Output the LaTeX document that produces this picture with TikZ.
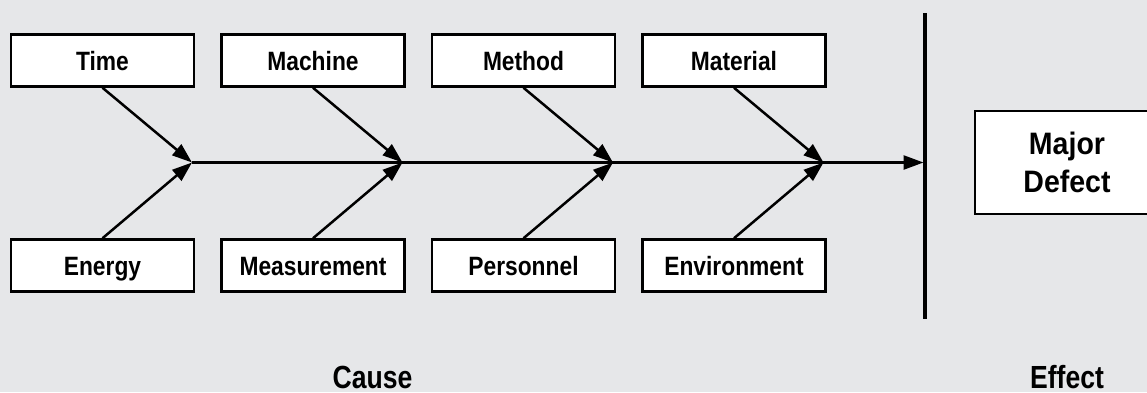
\documentclass[tikz,border=0pt]{standalone}
\usepackage{fontspec}
\setmainfont{Liberation Sans}
\newfontfamily\boxfont{Liberation Sans}[FakeStretch=0.86]
\newfontfamily\bigfont{Liberation Sans}[FakeStretch=0.83]
\newfontfamily\defectfont{Liberation Sans}[FakeStretch=0.92]
\usetikzlibrary{arrows.meta}
\definecolor{bgc}{RGB}{230,231,233}
\tikzset{
  cbox/.style={draw=black, line width=2.5pt, fill=white, minimum width=183pt, minimum height=52pt,
    inner sep=0pt, text height=19pt, text depth=0pt, font=\boxfont\fontsize{26.5}{30}\selectfont\bfseries},
  ebox/.style={draw=black, line width=2.5pt, fill=white, minimum width=184pt, minimum height=103pt,
    inner sep=0pt, align=center, font=\defectfont\fontsize{31}{38}\selectfont\bfseries},
  bigtext/.style={inner sep=0pt, anchor=base, text depth=0pt, font=\bigfont\fontsize{32}{36}\selectfont\bfseries},
  bone/.style={line width=2.5pt, -{Triangle[length=20pt,width=14pt]}},
}
\begin{document}
\begin{tikzpicture}[x=1pt,y=-1pt]
\fill[bgc] (0,0) rectangle (1147,392);
\useasboundingbox (0,0) rectangle (1147,392);
% top boxes
\node[cbox] (time) at (102.5,60.5) {Time};
\node[cbox] (machine) at (313,60.5) {Machine};
\node[cbox] (method) at (523.5,60.5) {Method};
\node[cbox] (material) at (734,60.5) {Material};
% bottom boxes
\node[cbox] (energy) at (102.5,265.5) {Energy};
\node[cbox] (measurement) at (313,265.5) {Measurement};
\node[cbox] (personnel) at (523.5,265.5) {Personnel};
\node[cbox] (environment) at (734,265.5) {Environment};
% junctions
\coordinate (j1) at (192,162.5);
\coordinate (j2) at (402.5,162.5);
\coordinate (j3) at (613,162.5);
\coordinate (j4) at (823.5,162.5);
\coordinate (vmid) at (923.5,162.5);
\coordinate (vtop) at (925,13);
\coordinate (vbot) at (925,319);
% spine
\draw[bone] (j1) -- (vmid);
\draw[line width=4pt] (vtop) -- (vbot);
% bones
\draw[bone] (time.south) -- (j1);
\draw[bone] (energy.north) -- (j1);
\draw[bone] (machine.south) -- (j2);
\draw[bone] (measurement.north) -- (j2);
\draw[bone] (method.south) -- (j3);
\draw[bone] (personnel.north) -- (j3);
\draw[bone] (material.south) -- (j4);
\draw[bone] (environment.north) -- (j4);
% effect
\node[ebox] (defect) at (1067,162.5) {Major\\Defect};
\node[bigtext] (cause) at (372.5,388.5) {Cause};
\node[bigtext] (effect) at (1067,388.5) {Effect};
\end{tikzpicture}
\end{document}
